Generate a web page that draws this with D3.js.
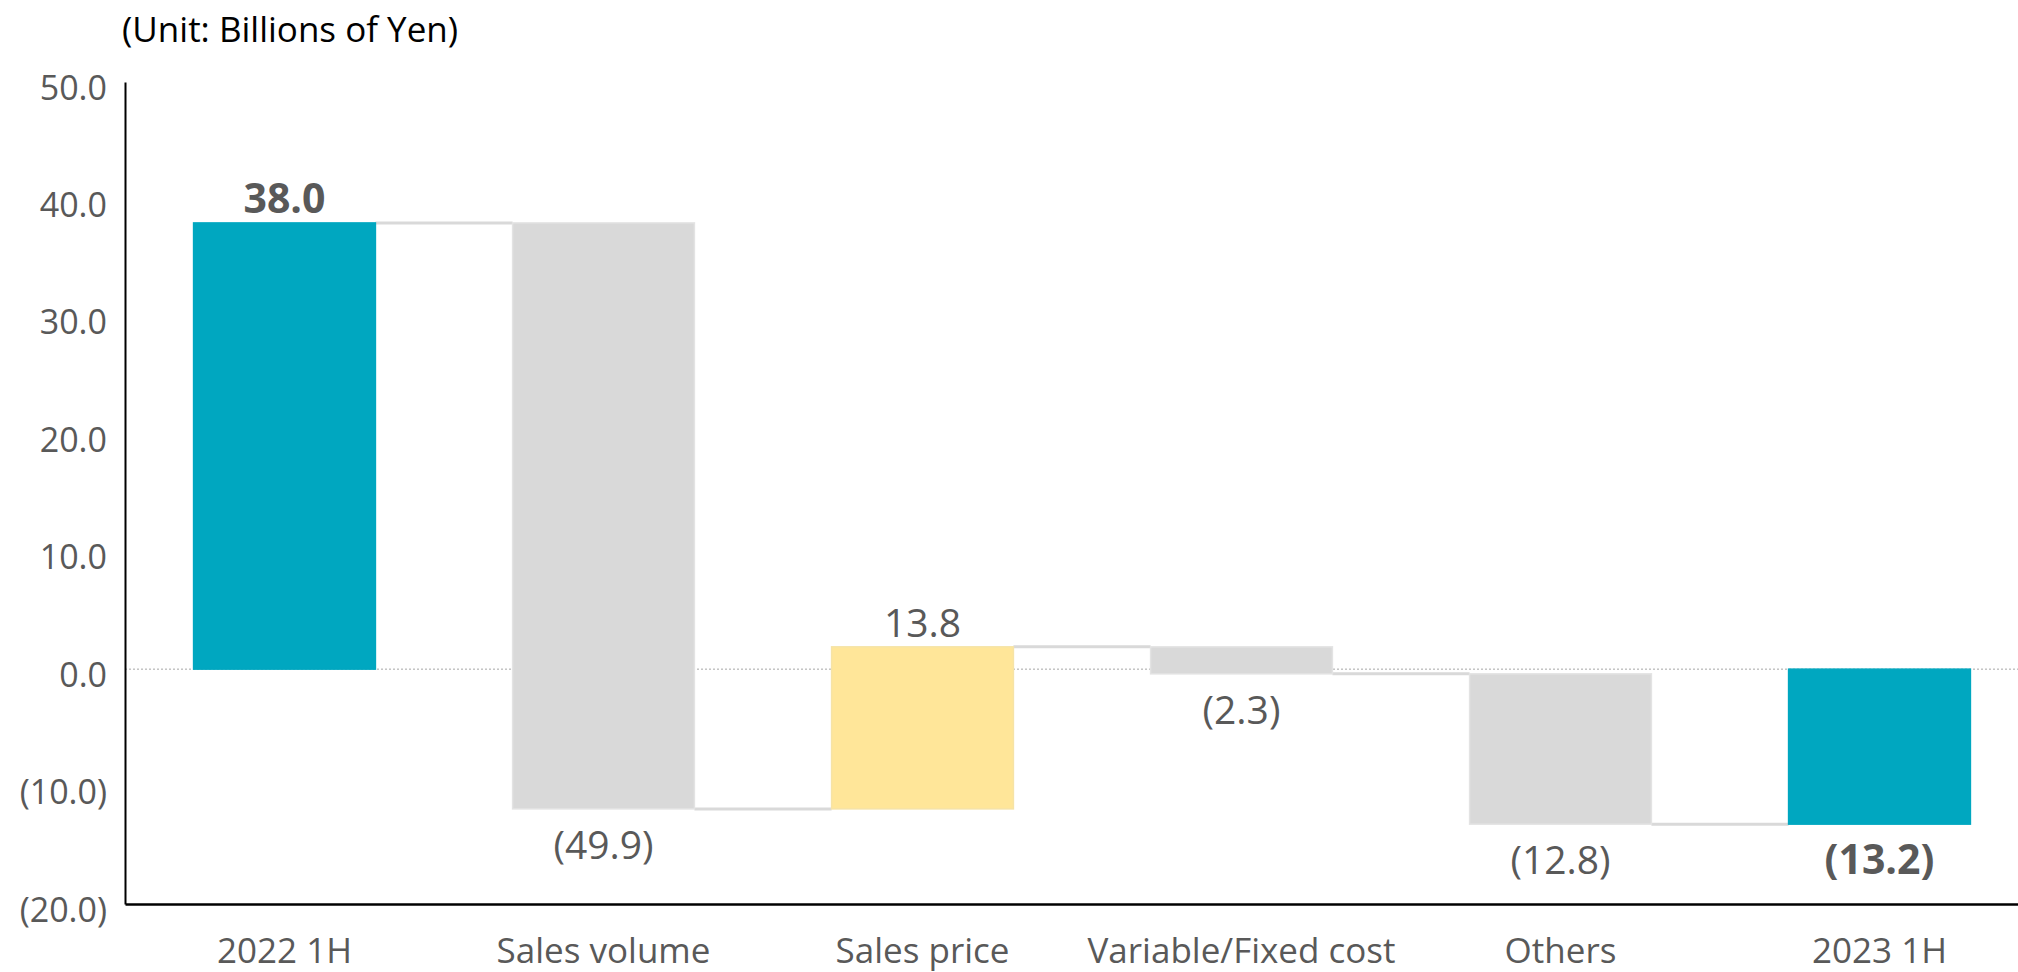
<!DOCTYPE html>
<html>
<head>
<meta charset="utf-8">
<script src="https://cdn.jsdelivr.net/npm/d3@7"></script>
<style>
  html, body { margin: 0; padding: 0; background: #fff; }
  svg { display: block; }
  text { font-family: "Open Sans", "Noto Sans", sans-serif; }
</style>
</head>
<body>
<svg id="chart" width="2018" height="972"></svg>
<script>
// ---- Data ----
const categories = ["2022 1H", "Sales volume", "Sales price", "Variable/Fixed cost", "Others", "2023 1H"];
const values = [38.0, -49.9, 13.8, -2.3, -12.8, -13.2];
const barKinds = ["total", "delta", "delta", "delta", "delta", "total"];
const yTicks = [50, 40, 30, 20, 10, 0, -10, -20];
const unitLabel = "(Unit: Billions of Yen)";

// ---- Derived waterfall ----
let running = 0;
const bars = categories.map((c, i) => {
  let y0, y1;
  if (barKinds[i] === "total") { y0 = 0; y1 = values[i]; running = values[i]; }
  else { y0 = running; y1 = running + values[i]; running = y1; }
  return { cat: c, value: values[i], kind: barKinds[i], y0, y1, end: barKinds[i] === "total" ? values[i] : y1 };
});

const colorFor = (d) => d.kind === "total" ? "#00A7C0" : (d.value >= 0 ? "#FFE699" : "#D9D9D9");
const strokeFor = (d) => d.kind === "total" ? "#00A7C0" : (d.value >= 0 ? "#F6E3A6" : "#E3E3E3");
const fmt = (v) => v < 0 ? "(" + d3.format(".1f")(-v) + ")" : d3.format(".1f")(v);

// ---- Layout ----
const svg = d3.select("#chart");
const axisX = 125, axisTop = 82, axisBottom = 904;
const x = d3.scaleBand().domain(categories).range([axisX, axisX + 1914]).paddingInner(0.43).paddingOuter(0.215);
const y = d3.scaleLinear().domain([-20, 50]).range([axisBottom, axisTop]);

// unit label
svg.append("text").attr("x", 122).attr("y", 42).attr("font-size", 35).attr("fill", "#000").text(unitLabel);

// zero dotted line
svg.append("line").attr("x1", axisX).attr("x2", 2018).attr("y1", y(0)).attr("y2", y(0))
  .attr("stroke", "#A6A6A6").attr("stroke-width", 1).attr("stroke-dasharray", "2,2");

// connectors
for (let i = 0; i < bars.length - 1; i++) {
  const lvl = bars[i].end;
  svg.append("line")
    .attr("x1", x(bars[i].cat) + x.bandwidth()).attr("x2", x(bars[i + 1].cat))
    .attr("y1", y(lvl)).attr("y2", y(lvl))
    .attr("stroke", "#D9D9D9").attr("stroke-width", 3);
}

// bars
svg.selectAll("rect.bar").data(bars).join("rect").attr("class", "bar")
  .attr("x", d => x(d.cat))
  .attr("width", x.bandwidth())
  .attr("y", d => y(Math.max(d.y0, d.y1)))
  .attr("height", d => Math.abs(y(d.y0) - y(d.y1)))
  .attr("fill", colorFor)
  .attr("stroke", strokeFor).attr("stroke-width", 1.5);

// value labels
svg.selectAll("text.val").data(bars).join("text").attr("class", "val")
  .attr("x", d => x(d.cat) + x.bandwidth() / 2)
  .attr("y", d => d.value >= 0 ? y(Math.max(d.y0, d.y1)) - 10 : y(Math.min(d.y0, d.y1)) + 50)
  .attr("text-anchor", "middle")
  .attr("font-size", d => d.kind === "total" ? 41 : 39)
  .attr("font-weight", d => d.kind === "total" ? 700 : 400)
  .attr("fill", "#595959")
  .text(d => fmt(d.value));

// y axis
const yAxis = d3.axisLeft(y).tickValues(yTicks).tickSize(0).tickPadding(18).tickFormat(fmt);
const gy = svg.append("g").attr("transform", `translate(${axisX},0)`).call(yAxis);
gy.select(".domain").attr("stroke", "#000").attr("stroke-width", 2);
gy.selectAll("text").attr("font-size", 34).attr("fill", "#595959")
  .attr("font-family", "'Open Sans', 'Noto Sans', sans-serif").attr("dy", "0.5em");

// x axis
const xAxis = d3.axisBottom(x).tickSize(0).tickPadding(34);
const gx = svg.append("g").attr("transform", `translate(0,${axisBottom})`).call(xAxis);
gx.select(".domain").attr("stroke", "#000").attr("stroke-width", 2.5);
gx.selectAll("text").attr("font-size", 35).attr("fill", "#595959")
  .attr("font-family", "'Open Sans', 'Noto Sans', sans-serif");
</script>
</body>
</html>
